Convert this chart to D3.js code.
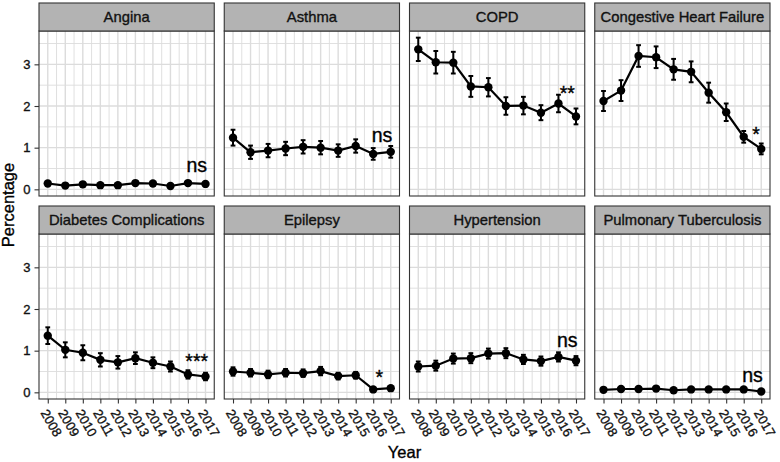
<!DOCTYPE html>
<html><head><meta charset="utf-8">
<script src="https://cdn.jsdelivr.net/npm/d3@7"></script>
<style>body{margin:0;background:#fff}svg{display:block}text{font-family:"Liberation Sans",Arial,Helvetica,sans-serif}</style>
</head><body>
<script>
const years = [2008,2009,2010,2011,2012,2013,2014,2015,2016,2017];
const conditions = ["Angina","Asthma","COPD","Congestive Heart Failure","Diabetes Complications","Epilepsy","Hypertension","Pulmonary Tuberculosis"];
const angina   = [0.14,0.09,0.12,0.10,0.10,0.15,0.14,0.08,0.15,0.13];
const asthma   = [1.24,0.89,0.93,0.98,1.02,1.00,0.93,1.04,0.85,0.90];
const copd     = [3.36,3.05,3.04,2.47,2.45,2.00,2.01,1.84,2.06,1.75];
const chf      = [2.12,2.37,3.20,3.17,2.88,2.82,2.32,1.85,1.26,0.97];
const diabetes = [1.36,1.02,0.95,0.78,0.72,0.82,0.71,0.62,0.43,0.38];
const epilepsy = [0.50,0.47,0.43,0.47,0.46,0.51,0.39,0.41,0.07,0.10];
const hypert   = [0.62,0.64,0.81,0.82,0.93,0.94,0.79,0.75,0.85,0.76];
const ptb      = [0.06,0.08,0.08,0.09,0.05,0.07,0.07,0.07,0.07,0.02];
// half-width of the error bars
const anginaErr   = [0.04,0.03,0.04,0.03,0.03,0.04,0.04,0.03,0.04,0.04];
const asthmaErr   = [0.19,0.16,0.16,0.16,0.16,0.16,0.15,0.16,0.14,0.14];
const copdErr     = [0.28,0.27,0.26,0.25,0.22,0.21,0.21,0.18,0.21,0.19];
const chfErr      = [0.24,0.25,0.26,0.26,0.25,0.25,0.24,0.21,0.14,0.13];
const diabetesErr = [0.20,0.18,0.18,0.16,0.15,0.14,0.13,0.12,0.10,0.09];
const epilepsyErr = [0.10,0.09,0.09,0.09,0.09,0.10,0.08,0.08,0.04,0.04];
const hypertErr   = [0.12,0.12,0.12,0.12,0.12,0.12,0.11,0.11,0.11,0.11];
const ptbErr      = [0.03,0.03,0.03,0.03,0.03,0.03,0.03,0.03,0.03,0.03];
const sigLabels = ["ns","ns","**","*","***","*","ns","ns"];
const sigX      = [2016.5,2016.5,2016.5,2016.7,2016.5,2016.35,2016.5,2016.5];
const sigY      = [0.41,1.14,2.14,1.17,0.58,0.21,1.10,0.26];
const yTicks = [0,1,2,3];
const yMinor = [0.5,1.5,2.5,3.5];
const xMinor = [2008.5,2009.5,2010.5,2011.5,2012.5,2013.5,2014.5,2015.5,2016.5];
const xLabel = "Year", yLabel = "Percentage";

const values = [angina,asthma,copd,chf,diabetes,epilepsy,hypert,ptb];
const errs = [anginaErr,asthmaErr,copdErr,chfErr,diabetesErr,epilepsyErr,hypertErr,ptbErr];

const W = 780, H = 462;
const svg = d3.select("body").append("svg").attr("width",W).attr("height",H);
const left = 39, right = 770, gap = 10, pw = (right-left-3*gap)/4;
const rowStrip = [3, 206], stripH = 28, ph = 165;
const x0 = d3.scaleLinear().domain([2007.5,2017.5]).range([0,pw]);
const y0 = d3.scaleLinear().domain([-0.16,3.8]).range([ph,0]);
const grid = "#dcdcdc", dark = "#333333";
const bold = sel => sel.attr("stroke","currentColor").attr("stroke-width",0.35);

conditions.forEach((name,i)=>{
  const col = i%4, row = Math.floor(i/4);
  const px = left + col*(pw+gap), sy = rowStrip[row], py = sy + stripH;
  const g = svg.append("g").attr("transform",`translate(${px},${py})`);
  g.selectAll(".ym").data(yMinor).join("line").attr("x1",0).attr("x2",pw).attr("y1",d=>y0(d)).attr("y2",d=>y0(d)).attr("stroke",grid).attr("stroke-width",0.9);
  g.selectAll(".xm").data(xMinor).join("line").attr("y1",0).attr("y2",ph).attr("x1",d=>x0(d)).attr("x2",d=>x0(d)).attr("stroke",grid).attr("stroke-width",0.9);
  g.selectAll(".yM").data(yTicks).join("line").attr("x1",0).attr("x2",pw).attr("y1",d=>y0(d)).attr("y2",d=>y0(d)).attr("stroke",grid).attr("stroke-width",1.4);
  g.selectAll(".xM").data(years).join("line").attr("y1",0).attr("y2",ph).attr("x1",d=>x0(d)).attr("x2",d=>x0(d)).attr("stroke",grid).attr("stroke-width",1.4);
  const pts = years.map((yr,k)=>({yr,v:values[i][k],e:errs[i][k]}));
  g.append("path").datum(pts).attr("fill","none").attr("stroke","#000").attr("stroke-width",2.2)
    .attr("d",d3.line().x(d=>x0(d.yr)).y(d=>y0(d.v)));
  const eb = g.selectAll(".eb").data(pts).join("g");
  eb.append("line").attr("x1",d=>x0(d.yr)).attr("x2",d=>x0(d.yr)).attr("y1",d=>y0(d.v-d.e)).attr("y2",d=>y0(d.v+d.e)).attr("stroke","#000").attr("stroke-width",2);
  eb.append("line").attr("x1",d=>x0(d.yr)-2.4).attr("x2",d=>x0(d.yr)+2.4).attr("y1",d=>y0(d.v-d.e)).attr("y2",d=>y0(d.v-d.e)).attr("stroke","#000").attr("stroke-width",2);
  eb.append("line").attr("x1",d=>x0(d.yr)-2.4).attr("x2",d=>x0(d.yr)+2.4).attr("y1",d=>y0(d.v+d.e)).attr("y2",d=>y0(d.v+d.e)).attr("stroke","#000").attr("stroke-width",2);
  g.selectAll(".pt").data(pts).join("circle").attr("cx",d=>x0(d.yr)).attr("cy",d=>y0(d.v)).attr("r",4.2).attr("fill","#000");
  g.append("text").attr("x",x0(sigX[i])).attr("y",y0(sigY[i])).attr("text-anchor","middle").attr("font-size",19.5).attr("fill","#000").style("color","#000").call(bold).text(sigLabels[i]);
  g.append("rect").attr("x",0).attr("y",0).attr("width",pw).attr("height",ph).attr("fill","none").attr("stroke",dark).attr("stroke-width",1.1);
  svg.append("rect").attr("x",px).attr("y",sy).attr("width",pw).attr("height",stripH).attr("fill","#b3b3b3").attr("stroke",dark).attr("stroke-width",1.1);
  svg.append("text").attr("x",px+pw/2).attr("y",sy+stripH/2).attr("dy","0.36em").attr("text-anchor","middle").attr("font-size",14.8).attr("fill","#111").style("color","#111").call(bold).text(name);
  if(col===0){
    const ya = g.append("g").call(d3.axisLeft(y0).tickValues(yTicks).tickFormat(d3.format("d")).tickSize(4.5).tickPadding(4));
    ya.select(".domain").remove();
    ya.selectAll("line").attr("stroke",dark).attr("stroke-width",1.1);
    ya.selectAll("text").attr("font-size",13).attr("fill","#111").style("color","#111").style("font-family","Liberation Sans, Arial, sans-serif").call(bold);
  }
  if(row===1){
    const xa = g.append("g").attr("transform",`translate(0,${ph})`).call(d3.axisBottom(x0).tickValues(years).tickFormat(d3.format("d")).tickSize(4.5));
    xa.select(".domain").remove();
    xa.selectAll("line").attr("stroke",dark).attr("stroke-width",1.1);
    xa.selectAll("text").attr("font-size",13).attr("fill","#111").style("color","#111").style("font-family","Liberation Sans, Arial, sans-serif")
      .attr("text-anchor","start").attr("y",0).attr("dy","0.72em")
      .attr("transform","translate(0,9) rotate(60)").call(bold);
  }
});
svg.append("text").attr("x",left+(right-left)/2).attr("y",458).attr("text-anchor","middle").attr("font-size",16.5).attr("fill","#000").style("color","#000").call(bold).text(xLabel);
svg.append("text").attr("transform","translate(14,205) rotate(-90)").attr("text-anchor","middle").attr("font-size",16.5).attr("fill","#000").style("color","#000").call(bold).text(yLabel);
</script>
</body></html>
